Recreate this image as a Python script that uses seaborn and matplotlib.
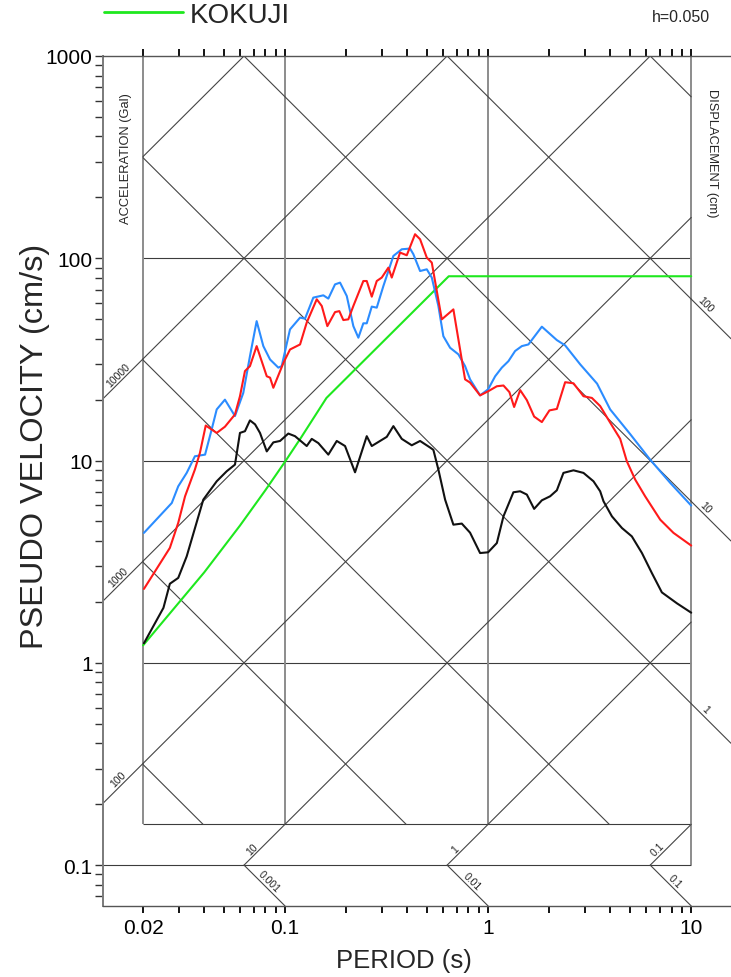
import numpy as np
import pandas as pd
import matplotlib
matplotlib.use("Agg")
import matplotlib.pyplot as plt
from matplotlib.lines import Line2D
from matplotlib.ticker import FixedLocator, FixedFormatter, NullFormatter
import seaborn as sns

# ---------------------------------------------------------------------------
# Response spectra (pseudo velocity in cm/s against period in s), h = 0.05
# ---------------------------------------------------------------------------
kokuji_period = [0.02, 0.04, 0.06, 0.08, 0.10, 0.12, 0.16, 0.64, 10.0]
kokuji_pv = [1.22, 2.80, 4.77, 7.13, 9.87, 13.0, 20.4, 81.5, 81.5]

ns_period = [0.0202, 0.0277, 0.0298, 0.0328, 0.0360, 0.0404, 0.0435, 0.0461, 0.0506,
             0.0567, 0.0623, 0.0672, 0.0725, 0.0782, 0.0844, 0.0927, 0.0963, 0.1058,
             0.1186, 0.1255, 0.1378, 0.1544, 0.1634, 0.1763, 0.1866, 0.2014, 0.217,
             0.2297, 0.2430, 0.2526, 0.2674, 0.2829, 0.3050, 0.3416, 0.3757, 0.4128,
             0.4286, 0.4624, 0.4989, 0.528, 0.569, 0.602, 0.650, 0.714, 0.770, 0.815,
             0.913, 1.0, 1.083, 1.168, 1.259, 1.358, 1.466, 1.579, 1.839, 2.180, 2.395,
             2.840, 3.44, 3.99, 5.01, 6.28, 7.88, 10.0]
ns_pv = [4.39, 6.17, 7.46, 8.69, 10.5, 10.7, 14.2, 17.9, 20.0, 16.6, 21.6, 32.8, 48.9,
         36.8, 31.6, 28.8, 29.3, 44.5, 50.9, 50.3, 63.9, 65.6, 63.2, 74.3, 75.8, 65.1,
         46.2, 40.5, 47.7, 47.7, 57.7, 57.0, 72.9, 102.7, 110.8, 111.7, 104.7, 86.5,
         88.2, 80.3, 58.1, 41.2, 36.1, 33.5, 29.3, 25.2, 21.0, 22.5, 26.1, 28.8, 31.0,
         34.8, 36.8, 37.5, 45.9, 39.4, 37.1, 29.9, 24.0, 17.9, 13.5, 10.1, 7.76, 5.99]

ew_period = [0.0202, 0.0271, 0.0298, 0.0322, 0.0360, 0.0381, 0.0407, 0.0461, 0.0506,
             0.0567, 0.0600, 0.0635, 0.0672, 0.0725, 0.0813, 0.0844, 0.0876, 0.0982,
             0.1058, 0.1186, 0.1279, 0.1433, 0.1517, 0.1616, 0.1763, 0.1851, 0.1937,
             0.2050, 0.217, 0.2430, 0.2526, 0.2674, 0.2829, 0.2995, 0.3228, 0.3354,
             0.3685, 0.3976, 0.4368, 0.4624, 0.4989, 0.528, 0.5915, 0.6745, 0.770, 0.815,
             0.913, 1.0, 1.104, 1.190, 1.273, 1.343, 1.438, 1.551, 1.685, 1.839, 2.004,
             2.180, 2.395, 2.632, 2.948, 3.243, 3.562, 3.99, 4.47, 4.82, 5.30, 5.93,
             7.04, 8.18, 10.0]
ew_pv = [2.32, 3.70, 4.92, 6.66, 9.03, 10.9, 14.9, 13.7, 14.7, 16.9, 20.8, 27.7, 29.3,
         36.8, 26.1, 25.7, 22.9, 30.4, 35.4, 37.5, 48.1, 62.7, 58.1, 46.2, 54.2, 54.8,
         49.5, 49.9, 58.1, 77.2, 77.2, 64.6, 77.2, 80.3, 89.9, 80.3, 106.7, 103.5, 131.5,
         124.2, 100.8, 95.2, 49.9, 55.9, 25.2, 24.3, 21.0, 22.0, 23.3, 23.5, 21.8, 18.4,
         22.3, 19.9, 16.5, 15.5, 17.7, 18.0, 24.4, 24.1, 20.8, 20.4, 18.6, 15.4, 12.8,
         9.92, 8.05, 6.66, 5.10, 4.39, 3.80]

ud_period = [0.0202, 0.0252, 0.0271, 0.0298, 0.0328, 0.0396, 0.0461, 0.0516, 0.0567,
             0.0600, 0.0635, 0.0672, 0.0712, 0.0753, 0.0813, 0.0876, 0.0945, 0.1038,
             0.1120, 0.1279, 0.1354, 0.1459, 0.1634, 0.1798, 0.1975, 0.2212, 0.2526,
             0.2674, 0.3170, 0.3416, 0.3757, 0.4208, 0.4624, 0.5179, 0.5376, 0.569,
             0.6141, 0.6745, 0.742, 0.815, 0.913, 1.0, 1.104, 1.190, 1.332, 1.438, 1.551,
             1.685, 1.839, 2.020, 2.180, 2.349, 2.632, 2.948, 3.302, 3.562, 3.70, 4.07,
             4.56, 5.10, 5.72, 6.40, 7.17, 8.50, 10.0]
ud_pv = [1.25, 1.87, 2.46, 2.63, 3.36, 6.41, 7.90, 8.85, 9.55, 13.7, 13.97, 15.8, 15.1,
         13.7, 11.1, 12.3, 12.5, 13.6, 13.2, 11.8, 12.8, 12.2, 10.7, 12.5, 11.8, 8.75,
         13.2, 11.8, 13.1, 14.8, 12.8, 11.9, 12.5, 11.6, 11.3, 9.03, 6.41, 4.82, 4.88,
         4.40, 3.49, 3.52, 3.91, 5.30, 6.97, 7.05, 6.79, 5.77, 6.36, 6.66, 7.13, 8.69,
         8.95, 8.69, 7.90, 7.05, 6.29, 5.30, 4.64, 4.22, 3.49, 2.78, 2.23, 1.97, 1.77]

# tick values / labels
x_major = [0.02, 0.1, 1, 10]
x_major_labels = ["0.02", "0.1", "1", "10"]
y_major = [0.1, 1, 10, 100, 1000]
y_major_labels = ["0.1", "1", "10", "100", "1000"]

# tripartite grid: acceleration (Gal) and displacement (cm) lines
accel_levels = [0.1, 1, 10, 100, 1000, 10000, 100000]
disp_levels = [0.001, 0.01, 0.1, 1, 10, 100, 1000]
accel_left_labels = [100, 1000, 10000]
accel_bottom_labels = [10, 1, 0.1]
disp_right_labels = [100, 10, 1]
disp_bottom_labels = [0.001, 0.01, 0.1]

GREEN = "#1EE81E"
RED = "#FF1A1A"
BLUE = "#2B8CFF"
BLACK = "#111111"
palette = {"KOKUJI": GREEN, "UD": BLACK, "EW": RED, "NS": BLUE}

# ---------------------------------------------------------------------------
sns.set_theme(style="white")
plt.rcParams["font.family"] = ["Liberation Sans", "DejaVu Sans"]

TWO_PI = 2.0 * np.pi
T_LO, T_HI = 0.0127, 15.7
V_LO, V_HI = 0.0628, 1000.0
BOX_T = (0.02, 10.0)
BOX_V = (1.0 / TWO_PI, 1000.0)

W, H = 731, 978
fig = plt.figure(figsize=(W / 100, H / 100), dpi=100)
ax = fig.add_axes([103 / W, 1 - 907 / H, 628 / W, 850 / H])
ax.set_xscale("log")
ax.set_yscale("log")
ax.set_xlim(T_LO, T_HI)
ax.set_ylim(V_LO, V_HI)

grid_kw = dict(color="#3c3c3c", lw=0.8, zorder=1, solid_capstyle="butt")
vgrid_kw = dict(color="#8c8c8c", lw=1.4, zorder=1, solid_capstyle="butt")
diag_kw = dict(color="#444444", lw=0.8, zorder=1)

# horizontal / vertical grid of the chart box
for v in [1, 10, 100, BOX_V[0]]:
    ax.plot([BOX_T[0], BOX_T[1]], [v, v], **grid_kw)
ax.plot([T_LO, BOX_T[1]], [0.1, 0.1], **grid_kw)
for t in [0.02, 0.1, 1]:
    ax.plot([t, t], [BOX_V[0], V_HI], **vgrid_kw)
ax.plot([10, 10], [0.1, V_HI], **vgrid_kw)

# constant-acceleration lines: V = A T / 2pi
for a in accel_levels:
    t1 = max(BOX_T[0], TWO_PI * BOX_V[0] / a)
    t2 = min(BOX_T[1], TWO_PI * BOX_V[1] / a)
    if t1 < t2:
        ax.plot([t1, t2], [a * t1 / TWO_PI, a * t2 / TWO_PI], **diag_kw)

# constant-displacement lines: V = 2pi D / T
for d in disp_levels:
    t1 = max(BOX_T[0], TWO_PI * d / BOX_V[1])
    t2 = min(BOX_T[1], TWO_PI * d / BOX_V[0])
    if t1 < t2:
        ax.plot([t1, t2], [TWO_PI * d / t1, TWO_PI * d / t2], **diag_kw)


def fmt(val):
    return f"{val:g}"


def seg_label(t0, v0, t1, v1, text, frac=0.5, off=1.0, size=7.5):
    ax.plot([t0, t1], [v0, v1], **diag_kw)
    p0 = ax.transData.transform((t0, v0))
    p1 = ax.transData.transform((t1, v1))
    ang = np.degrees(np.arctan2(p1[1] - p0[1], p1[0] - p0[0]))
    tm = t0 * (t1 / t0) ** frac
    vm = v0 * (v1 / v0) ** frac
    r = np.radians(ang)
    ax.annotate(text, (tm, vm), xytext=(-np.sin(r) * off, np.cos(r) * off),
                textcoords="offset points", rotation=ang, rotation_mode="anchor",
                ha="center", va="bottom", fontsize=size, color="#222222",
                annotation_clip=False)


for a in accel_left_labels:
    seg_label(T_LO, a * T_LO / TWO_PI, BOX_T[0], a * BOX_T[0] / TWO_PI, fmt(a))
for d in disp_right_labels:
    seg_label(BOX_T[1], TWO_PI * d / BOX_T[1], T_HI, TWO_PI * d / T_HI, fmt(d), frac=0.25)
for a in accel_bottom_labels:
    seg_label(TWO_PI * 0.1 / a, 0.1, TWO_PI * BOX_V[0] / a, BOX_V[0], fmt(a), frac=0.3)
for d in disp_bottom_labels:
    seg_label(TWO_PI * d / 0.1, 0.1, TWO_PI * d / V_LO, V_LO, fmt(d), frac=0.5)

# spectra
frames = [
    pd.DataFrame({"period": kokuji_period, "pv": kokuji_pv, "series": "KOKUJI"}),
    pd.DataFrame({"period": ud_period, "pv": ud_pv, "series": "UD"}),
    pd.DataFrame({"period": ns_period, "pv": ns_pv, "series": "NS"}),
    pd.DataFrame({"period": ew_period, "pv": ew_pv, "series": "EW"}),
]
df = pd.concat(frames, ignore_index=True)
sns.lineplot(data=df, x="period", y="pv", hue="series",
             hue_order=["KOKUJI", "UD", "NS", "EW"], palette=palette,
             estimator=None, sort=False, legend=False, lw=1.5, ax=ax, zorder=3)
ax.set_xscale("log")
ax.set_yscale("log")
ax.set_xlim(T_LO, T_HI)
ax.set_ylim(V_LO, V_HI)

# axes, ticks
ax.grid(False)
ax.spines["right"].set_visible(False)
ax.spines["left"].set_color("#7a7a7a")
ax.spines["left"].set_linewidth(1.4)
for s in ["top", "bottom"]:
    ax.spines[s].set_color("#555555")
    ax.spines[s].set_linewidth(1.0)

x_minor = [m * 10.0 ** e for e in (-2, -1, 0) for m in range(2, 10)
           if not np.isclose(m * 10.0 ** e, 0.02)]
y_minor = [m * 10.0 ** e for e in (-2, -1, 0, 1, 2) for m in range(2, 10)
           if V_LO < m * 10.0 ** e < V_HI]
ax.xaxis.set_major_locator(FixedLocator(x_major))
ax.xaxis.set_major_formatter(FixedFormatter(x_major_labels))
ax.xaxis.set_minor_locator(FixedLocator(x_minor))
ax.xaxis.set_minor_formatter(NullFormatter())
ax.yaxis.set_major_locator(FixedLocator(y_major))
ax.yaxis.set_major_formatter(FixedFormatter(y_major_labels))
ax.yaxis.set_minor_locator(FixedLocator(y_minor))
ax.yaxis.set_minor_formatter(NullFormatter())
ax.tick_params(axis="x", which="both", direction="out", top=True, bottom=True,
               labeltop=False, length=5, width=1.3, color="black", pad=4,
               labelsize=15, labelcolor="black")
ax.tick_params(axis="y", which="both", direction="out", left=True, right=False,
               length=6, width=1.0, color="#333333", pad=1.5, labelsize=15,
               labelcolor="black")

ax.set_xlabel("PERIOD (s)", fontsize=18.5, va="center")
ax.xaxis.set_label_coords(0.479, -0.0635)
ax.set_ylabel("PSEUDO VELOCITY (cm/s)", fontsize=23.4, va="center")
ax.yaxis.set_label_coords(-0.108, 0.542)

fig.text(126 / W, 1 - 159 / H, "ACCELERATION (Gal)", rotation=90,
         ha="center", va="center", fontsize=9.3)
fig.text(712 / W, 1 - 153 / H, "DISPLACEMENT (cm)", rotation=270,
         ha="center", va="center", fontsize=9.3)
fig.text(681 / W, 1 - 18 / H, "h=0.050", ha="center", va="center", fontsize=11.5)

handle = Line2D([], [], color=GREEN, lw=2.0)
fig.legend([handle], ["KOKUJI"], loc="center left",
           bbox_to_anchor=(104 / W, 1 - 16 / H), frameon=False, fontsize=20,
           handlelength=2.85, handletextpad=0.25, borderpad=0, borderaxespad=0)

fig.savefig("out.png", dpi=100)
